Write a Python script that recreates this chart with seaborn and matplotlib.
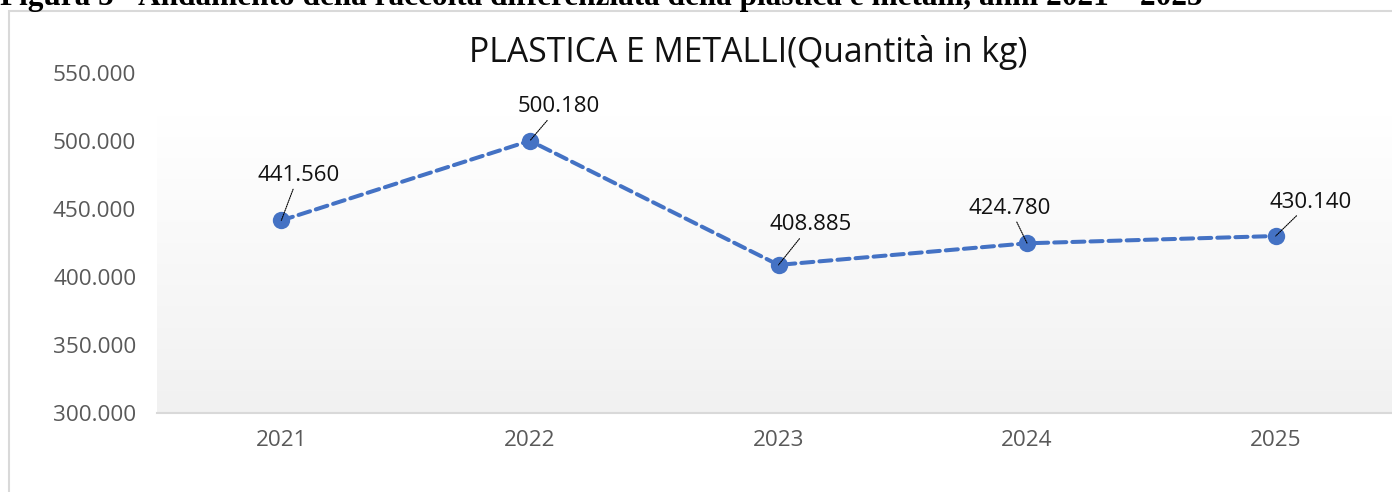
import numpy as np
import matplotlib.pyplot as plt
import seaborn as sns
from matplotlib.patches import Rectangle
from matplotlib.colors import LinearSegmentedColormap

# data
years = ["2021", "2022", "2023", "2024", "2025"]
quantities = [441560, 500180, 408885, 424780, 430140]
value_labels = ["441.560", "500.180", "408.885", "424.780", "430.140"]
y_ticks = [300000, 350000, 400000, 450000, 500000, 550000]
y_tick_labels = ["300.000", "350.000", "400.000", "450.000", "500.000", "550.000"]

# label offsets from each point (pixels), layout only
label_offsets = [(17, 45), (29, 34), (32, 40), (-17, 35), (35, 34)]

sns.set_theme(style="white")
plt.rcParams["font.family"] = ["Open Sans", "DejaVu Sans"]

W, H = 1392, 492
fig = plt.figure(figsize=(W / 100, H / 100), dpi=100)

# axes placed in pixel terms, right side runs past the image like the original
left, right, top, bottom = 157, 1400, 73, 413
ax = fig.add_axes([left / W, 1 - bottom / H, (right - left) / W, (bottom - top) / H])

# chart frame
fig.add_artist(Rectangle((9 / W, -0.2), 1.2, 1 - 11 / H + 0.2, transform=fig.transFigure,
                         fill=False, edgecolor="#d9d9d9", linewidth=1.5))

# caption, cut off at the top as in the source page
fig.text(0, 1 - 5 / H,
         "Figura 5 - Andamento della raccolta differenziata della plastica e metalli, anni 2021 \u2013 2025",
         family="Liberation Serif", fontweight="bold", fontsize=22.5, va="baseline", ha="left",
         color="black")

df = {"anno": years, "kg": quantities}
sns.lineplot(x="anno", y="kg", data=df, ax=ax, color="#4472C4", linewidth=2.9,
             marker="o", markersize=12.5, markeredgewidth=0, zorder=3)
line = ax.lines[0]
line.set_dashes((3.0, 1.5))
line.set_dash_capstyle("round")

# gradient fill of the plot area (white on top, light grey at the bottom)
grad_top = 519000
grad = np.linspace(0, 1, 256).reshape(-1, 1)
ax.imshow(grad, cmap=LinearSegmentedColormap.from_list("g", ["#ffffff", "#f1f1f1"]),
          extent=(-0.5, len(years) - 0.5, y_ticks[0], grad_top), aspect="auto", zorder=0,
          origin="upper")
ax.set_xlim(-0.5, len(years) - 0.5)
ax.set_ylim(y_ticks[0], y_ticks[-1])

ax.set_yticks(y_ticks)
ax.set_yticklabels(y_tick_labels)
ax.tick_params(axis="y", length=0, pad=15, labelsize=16.2, labelcolor="#595959")
ax.tick_params(axis="x", length=0, pad=12, labelsize=16.2, labelcolor="#595959")
ax.set_xlabel("")
ax.set_ylabel("")

for s in ["left", "right", "top"]:
    ax.spines[s].set_visible(False)
ax.spines["bottom"].set_color("#d9d9d9")
ax.spines["bottom"].set_linewidth(1.5)
ax.set_facecolor("none")

for i, (lab, off) in enumerate(zip(value_labels, label_offsets)):
    ax.annotate(lab, xy=(i, quantities[i]), xytext=off, textcoords="offset pixels",
                ha="center", va="center", fontsize=16, color="#111111", zorder=5,
                arrowprops=dict(arrowstyle="-", linestyle=(0, (1, 1)), linewidth=0.8,
                                color="black", shrinkA=0, shrinkB=0))

fig.text(748 / W, 1 - 52 / H, "PLASTICA E METALLI(Quantit\u00e0 in kg)", ha="center", va="center",
         fontsize=24.3, color="#111111")

fig.savefig("out.png", dpi=100)
